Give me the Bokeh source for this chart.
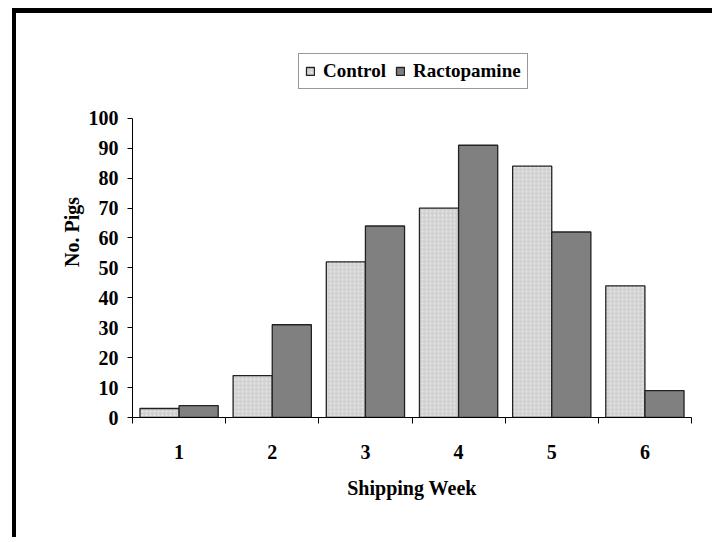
from bokeh.plotting import figure
from bokeh.models import (ColumnDataSource, FixedTicker, LinearAxis, Legend,
                          LegendItem, Range1d)
from bokeh.transform import dodge
from bokeh.embed import file_html
from bokeh.resources import INLINE

# ---- data ----
weeks = [1, 2, 3, 4, 5, 6]
week_labels = ["1", "2", "3", "4", "5", "6"]
control = [3, 14, 52, 70, 84, 44]
ractopamine = [4, 31, 64, 91, 62, 9]
y_ticks = [0, 10, 20, 30, 40, 50, 60, 70, 80, 90, 100]
y_axis_max = 100
series_names = ["Control", "Ractopamine"]

FONT = "Liberation Serif"
bounds = [w - 0.5 for w in weeks] + [weeks[-1] + 0.5]

src = ColumnDataSource(data=dict(week=weeks, control=control, ractopamine=ractopamine))

# frame extends above 100 to give room for the legend; the axis stops at 100
p = figure(width=700, height=529, output_backend="svg", toolbar_location=None,
           x_range=Range1d(bounds[0], bounds[-1]), y_range=Range1d(0, 124),
           min_border_left=116, min_border_right=25, min_border_top=33,
           min_border_bottom=125)
p.styles = {"margin-left": "12px", "margin-top": "8px",
            "border-top": "5px solid black", "border-left": "4px solid black"}
p.outline_line_color = None
p.xgrid.visible = False
p.ygrid.visible = False
p.background_fill_color = "white"
p.border_fill_color = "white"

bw = 0.42
r1 = p.vbar(x=dodge("week", -bw / 2, range=p.x_range), top="control", width=bw,
            source=src, fill_color="#d2d2d2", line_color="#222222", line_width=1.3,
            hatch_pattern="dot", hatch_color="white", hatch_scale=4, hatch_weight=1,
            hatch_alpha=0.5)
r2 = p.vbar(x=dodge("week", bw / 2, range=p.x_range), top="ractopamine", width=bw,
            source=src, fill_color="#808080", line_color="#222222", line_width=1.3)

# y axis
ya = p.yaxis[0]
ya.bounds = (0, y_axis_max)
ya.ticker = FixedTicker(ticks=y_ticks)
ya.major_tick_out = 5
ya.major_tick_in = 0
ya.minor_tick_out = 0
ya.minor_tick_in = 0
ya.axis_line_color = "black"
ya.major_tick_line_color = "black"
ya.major_label_text_font = FONT
ya.major_label_text_font_style = "bold"
ya.major_label_text_font_size = "20px"
ya.major_label_text_color = "black"
ya.major_label_standoff = 9
ya.axis_label = "No. Pigs"
ya.axis_label_text_font = FONT
ya.axis_label_text_font_style = "bold"
ya.axis_label_text_font_size = "20px"
ya.axis_label_text_color = "black"
ya.axis_label_standoff = 3

# x axis: ticks at category boundaries, no labels
xa = p.xaxis[0]
xa.ticker = FixedTicker(ticks=bounds)
xa.major_label_overrides = {b: "" for b in bounds}
xa.major_label_text_font_size = "1px"
xa.major_label_standoff = 0
xa.major_tick_out = 6
xa.major_tick_in = 0
xa.minor_tick_out = 0
xa.minor_tick_in = 0
xa.axis_line_color = "black"
xa.major_tick_line_color = "black"

# x axis: labels at category centres
xl = LinearAxis(ticker=FixedTicker(ticks=weeks),
                major_label_overrides={w: l for w, l in zip(weeks, week_labels)})
xl.axis_line_color = None
xl.major_tick_line_color = None
xl.minor_tick_line_color = None
xl.major_tick_out = 0
xl.major_tick_in = 0
xl.major_label_text_font = FONT
xl.major_label_text_font_style = "bold"
xl.major_label_text_font_size = "20px"
xl.major_label_text_color = "black"
xl.major_label_standoff = 21
xl.axis_label = "Shipping Week"
xl.axis_label_text_font = FONT
xl.axis_label_text_font_style = "bold"
xl.axis_label_text_font_size = "20px"
xl.axis_label_text_color = "black"
xl.axis_label_standoff = 15
p.add_layout(xl, "below")

legend = Legend(items=[LegendItem(label=series_names[0], renderers=[r1]),
                       LegendItem(label=series_names[1], renderers=[r2])],
                orientation="horizontal", location=(166, 328))
legend.border_line_color = "#333333"
legend.border_line_width = 1
legend.padding = 6
legend.spacing = 9
legend.margin = 0
legend.glyph_width = 10
legend.glyph_height = 10
legend.label_standoff = 8
legend.label_text_font = FONT
legend.label_text_font_style = "bold"
legend.label_text_font_size = "19px"
legend.label_text_color = "black"
legend.background_fill_alpha = 1
p.add_layout(legend, "center")

open("out.html", "w").write(file_html(p, INLINE))
